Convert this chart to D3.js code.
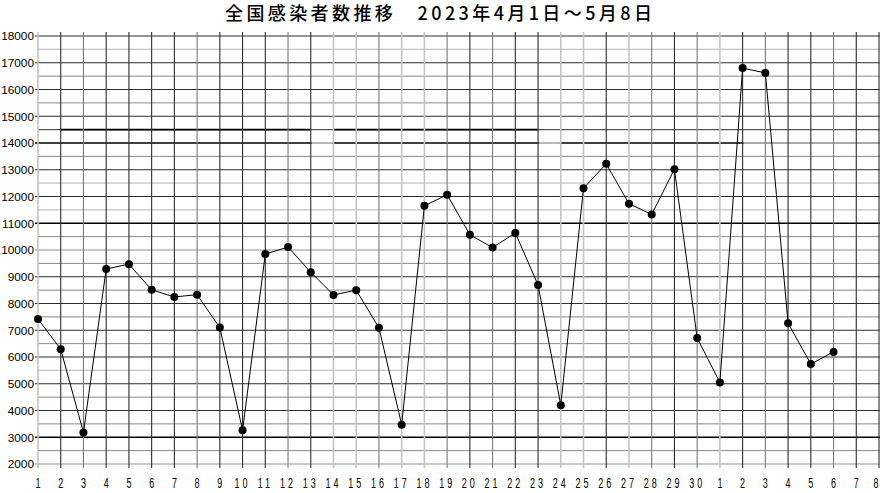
<!DOCTYPE html>
<html><head><meta charset="utf-8">
<script src="https://cdn.jsdelivr.net/npm/d3@7"></script>
<style>body{margin:0;background:#fff}svg{display:block}</style>
</head><body>
<script>
const title = "全国感染者数推移\u30002023年4月1日～5月8日";
const dayLabels = ["1","2","3","4","5","6","7","8","9","10","11","12","13","14","15","16","17","18","19","20","21","22","23","24","25","26","27","28","29","30","1","2","3","4","5","6","7","8"];
const cases = [7420,6290,3180,9290,9470,8510,8245,8330,7100,3260,9850,10110,9170,8320,8500,7090,3470,11650,12070,10570,10090,10640,8690,4200,12310,13220,11730,11330,13020,6710,5050,16800,16620,7265,5740,6190,null,null];
const yTicks = [2000,3000,4000,5000,6000,7000,8000,9000,10000,11000,12000,13000,14000,15000,16000,17000,18000];
// grid shade per day column: 0 light, 1 medium, 2 dark
const colShade = [0,2,1,2,2,2,2,1,2,2,2,1,2,0,0,1,0,0,1,2,1,2,2,0,0,2,0,1,2,1,0,2,1,2,2,1,2,2];

const W = 880, H = 493;
const svg = d3.select("body").append("svg").attr("width", W).attr("height", H);
const idx = d3.range(dayLabels.length);
const x = d3.scalePoint().domain(idx).range([38, 879]);
const y = d3.scaleLinear().domain([2000, 18000]).range([464, 36]);

const shadeStyle = [{c:"#c4c4c4",w:1.6},{c:"#7a7a7a",w:1.1},{c:"#2e2e2e",w:1.1}];

// horizontal grid
const halfSteps = d3.range(2000, 18001, 500);
function hStyle(v){
  if (v===3000 || v===11000 || v===14000) return {c:"#000",w:1.6};
  if (v===10000 || v===2000) return {c:"#c8c8c8",w:2};
  if (v===14500) return {c:"#555",w:1.1};
  if (v%1000===0) return {c:"#2e2e2e",w:1.1};
  if (v===17500 || v===12500 || v===11500 || v===5500) return {c:"#c4c4c4",w:1.4};
  return {c:"#8a8a8a",w:1};
}
const g = svg.append("g");
halfSteps.forEach(v=>{
  const s = hStyle(v);
  g.append("line").attr("x1", v%1000===0 ? 35 : 38).attr("x2", W)
   .attr("y1", y(v)).attr("y2", y(v))
   .attr("stroke", s.c).attr("stroke-width", s.w);
});
// bold 14500 segments with gaps
[[1,12],[13,22]].forEach(([a,b])=>{
  g.append("line").attr("x1", x(a)).attr("x2", x(b)).attr("y1", y(14500)).attr("y2", y(14500))
   .attr("stroke","#000").attr("stroke-width",1.6);
});
// 14000 lighter gaps
[[12,13],[22,23]].forEach(([a,b])=>{
  g.append("line").attr("x1", x(a)+1).attr("x2", x(b)-1).attr("y1", y(14000)).attr("y2", y(14000))
   .attr("stroke","#fff").attr("stroke-width",1.8);
  g.append("line").attr("x1", x(a)+1).attr("x2", x(b)-1).attr("y1", y(14000)).attr("y2", y(14000))
   .attr("stroke","#888").attr("stroke-width",1);
});
g.append("line").attr("x1", x(31)+1).attr("x2", W).attr("y1", y(14000)).attr("y2", y(14000))
   .attr("stroke","#fff").attr("stroke-width",1.8);
g.append("line").attr("x1", x(31)).attr("x2", W).attr("y1", y(14000)).attr("y2", y(14000))
   .attr("stroke","#555").attr("stroke-width",1.1);

// vertical grid
idx.forEach(i=>{
  const s = shadeStyle[colShade[i]];
  g.append("line").attr("x1", x(i)).attr("x2", x(i))
   .attr("y1", 32).attr("y2", 468)
   .attr("stroke", s.c).attr("stroke-width", s.w);
});

// y labels
svg.append("g").selectAll("text").data(yTicks).join("text")
  .attr("x", 34).attr("y", d=>y(d)+4.3).attr("text-anchor","end")
  .attr("font-family","Liberation Sans, Arial, sans-serif").attr("font-size", 11.8)
  .attr("fill","#000").text(d=>d);

// x labels
svg.append("g").selectAll("g").data(idx).join("g")
  .attr("transform", i=>`translate(${Math.min(x(i), 876)},488) scale(0.6,1)`)
  .append("text").attr("text-anchor","middle")
  .attr("font-family","Liberation Sans, Arial, sans-serif").attr("font-size", 15)
  .attr("letter-spacing", d=>dayLabels[d].length>1 ? 5 : 0)
  .attr("fill","#000").text(d=>dayLabels[d]);

// data line
const pts = idx.filter(i=>cases[i]!=null);
svg.append("path")
  .attr("fill","none").attr("stroke","#000").attr("stroke-width",1)
  .attr("d", d3.line().defined(i=>cases[i]!=null).x(i=>x(i)).y(i=>y(cases[i]))(idx));
svg.append("g").selectAll("circle").data(pts).join("circle")
  .attr("cx", i=>x(i)).attr("cy", i=>y(cases[i])).attr("r", 4).attr("fill","#000");

// title
svg.append("text").attr("x", 225).attr("y", 20)
  .attr("font-family","Noto Sans CJK JP, sans-serif").attr("font-size", 18).attr("font-weight", 500)
  .attr("letter-spacing", 3.4)
  .attr("fill","#000").text(title);
</script>
</body></html>
